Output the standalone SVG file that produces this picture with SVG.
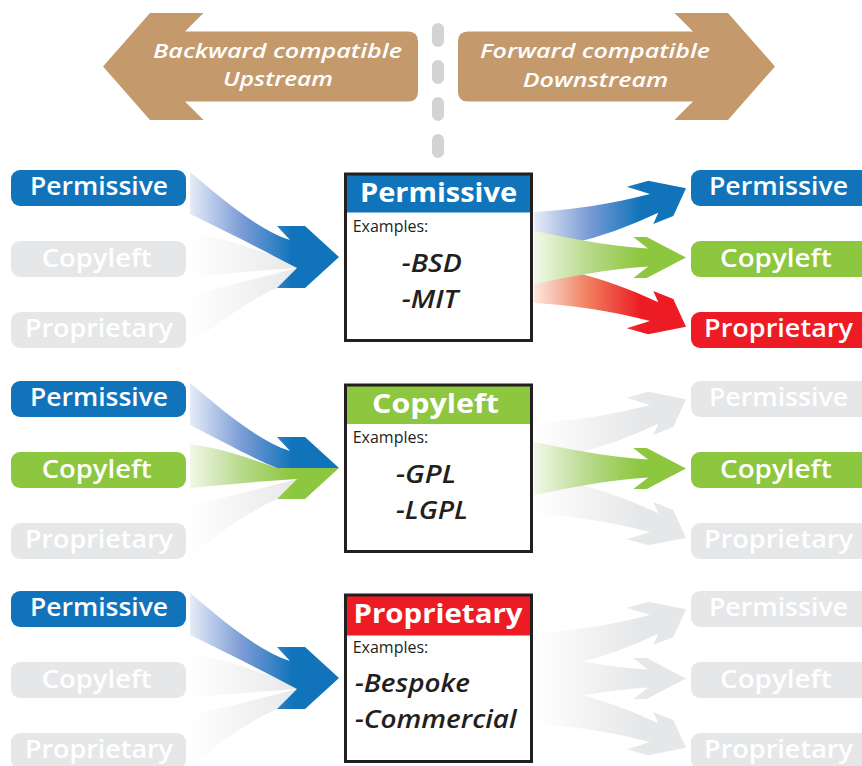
<svg xmlns="http://www.w3.org/2000/svg" xmlns:xlink="http://www.w3.org/1999/xlink" width="862" height="766" viewBox="0 0 862 766">
<style>
text{font-family:"Open Sans","Noto Sans","Liberation Sans",sans-serif}
.pt{font-weight:600;font-size:25px;fill:#fff}
.ht{font-weight:700;font-size:27px;fill:#fff}
.ex{font-weight:400;font-size:16px;fill:#231F20}
.it{font-style:italic;font-weight:600;font-size:26px;fill:#231F20}
.tt{font-style:italic;font-weight:600;font-size:20.5px;fill:#fff}
.blue{fill:#1174BB}.green{fill:#8DC63F}.red{fill:#ED1C24}.gray{fill:#E6E7E8}
.box{fill:none;stroke:#231F20;stroke-width:3}
.tan{fill:#C49A6C}
</style>
<defs>
<linearGradient id="gbL" gradientUnits="userSpaceOnUse" x1="190" y1="0" x2="292" y2="0"><stop offset="0" stop-color="#E6ECF7"/><stop offset="0.5" stop-color="#7D9DD6"/><stop offset="1" stop-color="#1174BB"/></linearGradient>
<linearGradient id="ggL" gradientUnits="userSpaceOnUse" x1="190" y1="0" x2="292" y2="0"><stop offset="0" stop-color="#F1F8E8"/><stop offset="0.5" stop-color="#B8DA8C"/><stop offset="1" stop-color="#8DC63F"/></linearGradient>
<linearGradient id="gyL" gradientUnits="userSpaceOnUse" x1="190" y1="0" x2="300" y2="0"><stop offset="0" stop-color="#FFFFFF"/><stop offset="1" stop-color="#E6E7E8"/></linearGradient>
<linearGradient id="gbR" gradientUnits="userSpaceOnUse" x1="535" y1="0" x2="640" y2="0"><stop offset="0" stop-color="#E6ECF7"/><stop offset="0.5" stop-color="#7D9DD6"/><stop offset="1" stop-color="#1174BB"/></linearGradient>
<linearGradient id="ggR" gradientUnits="userSpaceOnUse" x1="535" y1="0" x2="640" y2="0"><stop offset="0" stop-color="#F1F8E8"/><stop offset="0.5" stop-color="#B8DA8C"/><stop offset="1" stop-color="#8DC63F"/></linearGradient>
<linearGradient id="grR" gradientUnits="userSpaceOnUse" x1="535" y1="0" x2="640" y2="0"><stop offset="0" stop-color="#FDE6DE"/><stop offset="0.5" stop-color="#F0805F"/><stop offset="1" stop-color="#ED1C24"/></linearGradient>
<linearGradient id="gyR" gradientUnits="userSpaceOnUse" x1="535" y1="0" x2="640" y2="0"><stop offset="0" stop-color="#FFFFFF"/><stop offset="1" stop-color="#E6E7E8"/></linearGradient>
<path id="lFull" d="M190,172 C228,204 258,229 290,240 L277,226 L305,226 L339,257 L305,288 L277,288 L297,268 C262,250 228,232 190,214 Z"/>
<path id="lHalf" d="M190,172 C228,204 258,229 290,240 L277,226 L305,226 L339,257 L277,257 C250,246 222,230 190,214 Z"/>
<path id="lMid" d="M190,233 C232,239 258,251 277,257 L339,257 L305,288 L277,288 L297,268 C260,270 225,274 190,277 Z"/>
<path id="lBot" d="M190,294 C230,286 265,276 297,268 L277,288 C250,300 218,322 190,346 Z"/>
<path id="rUp" d="M534,212 C572,210 612,204 650,194 L626.7,186.7 L648.3,180.7 L686,188.3 L673.3,216 L653.3,224 L658.3,212.7 C630,226 600,237 573,243 L534,243 Z"/>
<path id="rMid" d="M534,231 C565,237 605,246 648,248.5 L633.3,237 L646.7,237 L686,257.5 L646.7,278 L633.3,278 L648.3,266.5 C605,269 565,278 534,284 Z"/>
</defs>
<rect width="862" height="766" fill="#fff"/>

<g id="header">
<g id="arrow-backward">
<path class="tan" d="M103,66.5 L150,13 L203.5,13 L185,31.5 L408,31.5 Q418,31.5 418,41.5 L418,91.5 Q418,101.5 408,101.5 L185,101.5 L203.5,120 L150,120 Z"/>
<text class="tt" x="153" y="58.3" textLength="249" lengthAdjust="spacingAndGlyphs">Backward compatible</text>
<text class="tt" x="223" y="86.3" textLength="110" lengthAdjust="spacingAndGlyphs">Upstream</text>
</g>
<g id="arrow-forward">
<path class="tan" d="M775,66.5 L728,13 L674.5,13 L693,31.5 L468,31.5 Q458,31.5 458,41.5 L458,91.5 Q458,101.5 468,101.5 L693,101.5 L674.5,120 L728,120 Z"/>
<text class="tt" x="480" y="58.3" textLength="230" lengthAdjust="spacingAndGlyphs">Forward compatible</text>
<text class="tt" x="522.7" y="86.5" textLength="145.6" lengthAdjust="spacingAndGlyphs">Downstream</text>
</g>
<line id="divider" x1="438" y1="29" x2="438" y2="152" stroke="#D1D3D4" stroke-width="12" stroke-linecap="round" stroke-dasharray="12 25"/>
</g>

<g id="connectors">
<use xlink:href="#lMid" fill="url(#gyL)"/>
<use xlink:href="#lBot" fill="url(#gyL)"/>
<use xlink:href="#lFull" fill="url(#gbL)"/>
<use xlink:href="#lBot" fill="url(#gyL)" transform="translate(0,211)"/>
<use xlink:href="#lMid" fill="url(#ggL)" transform="translate(0,211)"/>
<use xlink:href="#lHalf" fill="url(#gbL)" transform="translate(0,211)"/>
<use xlink:href="#lMid" fill="url(#gyL)" transform="translate(0,421)"/>
<use xlink:href="#lBot" fill="url(#gyL)" transform="translate(0,421)"/>
<use xlink:href="#lFull" fill="url(#gbL)" transform="translate(0,421)"/>
<use xlink:href="#rUp" fill="url(#gbR)"/>
<use xlink:href="#rUp" fill="url(#grR)" transform="matrix(1,0,0,-1,0,515)"/>
<use xlink:href="#rMid" fill="url(#ggR)"/>
<use xlink:href="#rUp" fill="url(#gyR)" transform="translate(0,211)"/>
<use xlink:href="#rUp" fill="url(#gyR)" transform="matrix(1,0,0,-1,0,726)"/>
<use xlink:href="#rMid" fill="url(#ggR)" transform="translate(0,211)"/>
<use xlink:href="#rUp" fill="url(#gyR)" transform="translate(0,421)"/>
<use xlink:href="#rUp" fill="url(#gyR)" transform="matrix(1,0,0,-1,0,936)"/>
<use xlink:href="#rMid" fill="url(#gyR)" transform="translate(0,421)"/>
</g>

<g id="r1-in-permissive"><rect class="blue" x="11" y="170" width="175" height="36" rx="9"/><text class="pt" x="30" y="195.3" textLength="138" lengthAdjust="spacingAndGlyphs">Permissive</text></g>
<g id="r1-in-copyleft"><rect class="gray" x="11" y="241" width="175" height="36" rx="9"/><text class="pt" x="41.7" y="266.5" textLength="110" lengthAdjust="spacingAndGlyphs">Copyleft</text></g>
<g id="r1-in-proprietary"><rect class="gray" x="11" y="312" width="175" height="36" rx="9"/><text class="pt" x="25" y="337" textLength="148" lengthAdjust="spacingAndGlyphs">Proprietary</text></g>
<g id="r1-box-permissive">
<rect x="345.5" y="174" width="186" height="166.5" fill="#fff"/>
<rect class="blue" x="345.5" y="174" width="186" height="38.5"/>
<rect class="box" x="345.5" y="174" width="186" height="166.5"/>
<text class="ht" x="360" y="202" textLength="157" lengthAdjust="spacingAndGlyphs">Permissive</text>
<text class="ex" x="352.7" y="231.5" textLength="75.6" lengthAdjust="spacingAndGlyphs">Examples:</text>
<text class="it" x="401.7" y="271.7" textLength="60" lengthAdjust="spacingAndGlyphs">-BSD</text>
<text class="it" x="401.7" y="307.7" textLength="56.6" lengthAdjust="spacingAndGlyphs">-MIT</text>
</g>
<g id="r1-out-permissive"><rect class="blue" x="691" y="170" width="180" height="36" rx="9"/><text class="pt" x="709" y="195.3" textLength="139" lengthAdjust="spacingAndGlyphs">Permissive</text></g>
<g id="r1-out-copyleft"><rect class="green" x="691" y="241" width="180" height="36" rx="9"/><text class="pt" x="720" y="266.5" textLength="111.7" lengthAdjust="spacingAndGlyphs">Copyleft</text></g>
<g id="r1-out-proprietary"><rect class="red" x="691" y="312" width="180" height="36" rx="9"/><text class="pt" x="704" y="337" textLength="149" lengthAdjust="spacingAndGlyphs">Proprietary</text></g>

<g id="r2-in-permissive"><rect class="blue" x="11" y="381" width="175" height="36" rx="9"/><text class="pt" x="30" y="406.3" textLength="138" lengthAdjust="spacingAndGlyphs">Permissive</text></g>
<g id="r2-in-copyleft"><rect class="green" x="11" y="452" width="175" height="36" rx="9"/><text class="pt" x="41.7" y="477.5" textLength="110" lengthAdjust="spacingAndGlyphs">Copyleft</text></g>
<g id="r2-in-proprietary"><rect class="gray" x="11" y="523" width="175" height="36" rx="9"/><text class="pt" x="25" y="548" textLength="148" lengthAdjust="spacingAndGlyphs">Proprietary</text></g>
<g id="r2-box-copyleft">
<rect x="345.5" y="385" width="186" height="166.5" fill="#fff"/>
<rect class="green" x="345.5" y="385" width="186" height="39"/>
<rect class="box" x="345.5" y="385" width="186" height="166.5"/>
<text class="ht" x="372" y="413" textLength="127" lengthAdjust="spacingAndGlyphs">Copyleft</text>
<text class="ex" x="352.7" y="442.5" textLength="75.6" lengthAdjust="spacingAndGlyphs">Examples:</text>
<text class="it" x="396" y="482.5" textLength="60" lengthAdjust="spacingAndGlyphs">-GPL</text>
<text class="it" x="396" y="518.5" textLength="72" lengthAdjust="spacingAndGlyphs">-LGPL</text>
</g>
<g id="r2-out-permissive"><rect class="gray" x="691" y="381" width="180" height="36" rx="9"/><text class="pt" x="709" y="406.3" textLength="139" lengthAdjust="spacingAndGlyphs">Permissive</text></g>
<g id="r2-out-copyleft"><rect class="green" x="691" y="452" width="180" height="36" rx="9"/><text class="pt" x="720" y="477.5" textLength="111.7" lengthAdjust="spacingAndGlyphs">Copyleft</text></g>
<g id="r2-out-proprietary"><rect class="gray" x="691" y="523" width="180" height="36" rx="9"/><text class="pt" x="704" y="548" textLength="149" lengthAdjust="spacingAndGlyphs">Proprietary</text></g>

<g id="r3-in-permissive"><rect class="blue" x="11" y="591" width="175" height="36" rx="9"/><text class="pt" x="30" y="616.3" textLength="138" lengthAdjust="spacingAndGlyphs">Permissive</text></g>
<g id="r3-in-copyleft"><rect class="gray" x="11" y="662" width="175" height="36" rx="9"/><text class="pt" x="41.7" y="687.5" textLength="110" lengthAdjust="spacingAndGlyphs">Copyleft</text></g>
<g id="r3-in-proprietary"><rect class="gray" x="11" y="733" width="175" height="36" rx="9"/><text class="pt" x="25" y="758" textLength="148" lengthAdjust="spacingAndGlyphs">Proprietary</text></g>
<g id="r3-box-proprietary">
<rect x="345.5" y="595" width="186" height="166.5" fill="#fff"/>
<rect class="red" x="345.5" y="595" width="186" height="40.5"/>
<rect class="box" x="345.5" y="595" width="186" height="166.5"/>
<text class="ht" x="353.5" y="623" textLength="169" lengthAdjust="spacingAndGlyphs">Proprietary</text>
<text class="ex" x="352.7" y="652.7" textLength="75.6" lengthAdjust="spacingAndGlyphs">Examples:</text>
<text class="it" x="355" y="691.7" textLength="115" lengthAdjust="spacingAndGlyphs">-Bespoke</text>
<text class="it" x="355" y="728.3" textLength="161.7" lengthAdjust="spacingAndGlyphs">-Commercial</text>
</g>
<g id="r3-out-permissive"><rect class="gray" x="691" y="591" width="180" height="36" rx="9"/><text class="pt" x="709" y="616.3" textLength="139" lengthAdjust="spacingAndGlyphs">Permissive</text></g>
<g id="r3-out-copyleft"><rect class="gray" x="691" y="662" width="180" height="36" rx="9"/><text class="pt" x="720" y="687.5" textLength="111.7" lengthAdjust="spacingAndGlyphs">Copyleft</text></g>
<g id="r3-out-proprietary"><rect class="gray" x="691" y="733" width="180" height="36" rx="9"/><text class="pt" x="704" y="758" textLength="149" lengthAdjust="spacingAndGlyphs">Proprietary</text></g>
</svg>
